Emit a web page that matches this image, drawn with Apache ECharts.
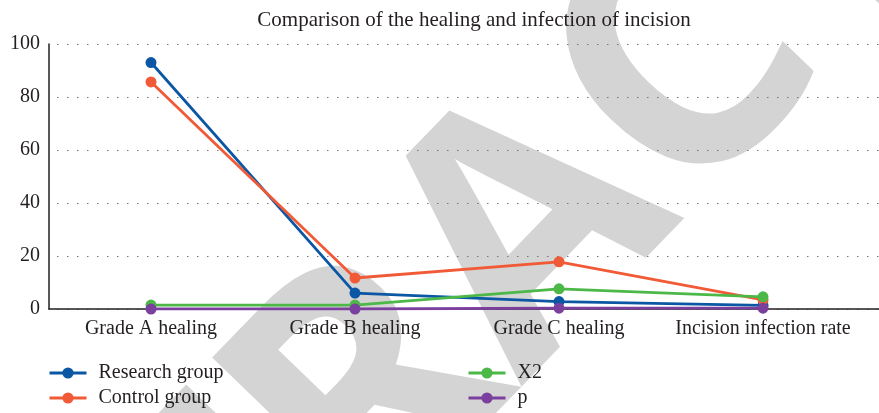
<!DOCTYPE html>
<html>
<head>
<meta charset="utf-8">
<script src="https://cdn.jsdelivr.net/npm/echarts@6/dist/echarts.min.js"></script>
<style>
  html, body { margin: 0; padding: 0; background: #fff; }
  #chart { width: 879px; height: 413px; }
</style>
</head>
<body>
<div id="chart"></div>
<script>
// 数据
const categories = ['Grade A healing', 'Grade B healing', 'Grade C healing', 'Incision infection rate'];
const researchGroup = [93.0, 6.0, 2.8, 1.4];
const controlGroup = [85.7, 11.7, 17.8, 3.4];
const x2Values = [1.5, 1.5, 7.6, 4.6];
const pValues = [0.0, 0.0, 0.3, 0.3];
const yTicks = [0, 20, 40, 60, 80, 100];

const serif = '"Liberation Serif", "DejaVu Serif", serif';
const ink = '#231f20';
const colors = ['#0b57a4', '#f15a36', '#4cb848', '#7b409e'];

var myChart = echarts.init(document.getElementById('chart'));

let makeLine = (name, data, color)=>{
    return {
        name: name,
        type: 'line',
        xAxisIndex: 1,
        yAxisIndex: 1,
        data: data,
        symbol: 'circle',
        symbolSize: 11,
        lineStyle: { width: 2.8, color: color },
        itemStyle: { color: color },
        z: 3
    };
};

let legendBase = (left, names)=>{
    return {
        orient: 'vertical',
        left: left,
        top: 363,
        padding: 0,
        itemWidth: 37,
        itemHeight: 14,
        itemGap: 5,
        data: names,
        lineStyle: { width: 3 },
        textStyle: { fontFamily: serif, fontSize: 20, color: ink, padding: [0, 0, 0, 7] }
    };
};

let option = {
    animation: false,
    title: {
        text: 'Comparison of the healing and infection of incision',
        left: 469,
        textAlign: 'center',
        top: 5,
        textStyle: { fontFamily: serif, fontSize: 21, fontWeight: 'normal', color: ink }
    },
    // 水印
    graphic: [{
        type: 'text',
        x: 540,
        y: 228,
        rotation: 46 * Math.PI / 180,
        z: -10,
        silent: true,
        style: {
            text: 'RETRACTED',
            fill: '#d4d4d4',
            font: 'bold 340px "Open Sans", sans-serif',
            textAlign: 'center',
            textVerticalAlign: 'middle'
        }
    }],
    legend: [
        legendBase(48, ['Research group', 'Control group']),
        legendBase(467, ['X2', 'p'])
    ],
    grid: [
        { left: 49, right: 0, top: 44, bottom: 104 },
        { left: 49, right: 14, top: 44, bottom: 104 }
    ],
    xAxis: [{
        type: 'category',
        gridIndex: 0,
        data: categories,
        axisLine: { lineStyle: { color: ink, width: 1.5 } },
        axisTick: { show: false },
        axisLabel: { show: false }
    }, {
        type: 'category',
        gridIndex: 1,
        data: categories,
        axisLine: { show: false },
        axisTick: { show: false },
        axisLabel: { interval: 0, fontFamily: serif, fontSize: 20, color: ink, margin: 10 }
    }],
    yAxis: [{
        type: 'value',
        gridIndex: 0,
        min: yTicks[0],
        max: yTicks[yTicks.length - 1],
        interval: 20,
        axisLine: { show: true, lineStyle: { color: ink, width: 1.5 } },
        axisTick: { show: false },
        axisLabel: { fontFamily: serif, fontSize: 20, color: ink, margin: 9 },
        splitLine: { lineStyle: { color: '#777', width: 1, type: [1.5, 8.5], dashOffset: -8 } }
    }, {
        type: 'value',
        gridIndex: 1,
        min: yTicks[0],
        max: yTicks[yTicks.length - 1],
        interval: 20,
        show: false,
        splitLine: { show: false }
    }],
    series: [
        makeLine('Research group', researchGroup, colors[0]),
        makeLine('Control group', controlGroup, colors[1]),
        makeLine('X2', x2Values, colors[2]),
        makeLine('p', pValues, colors[3])
    ]
};

myChart.setOption(option);
</script>
</body>
</html>
